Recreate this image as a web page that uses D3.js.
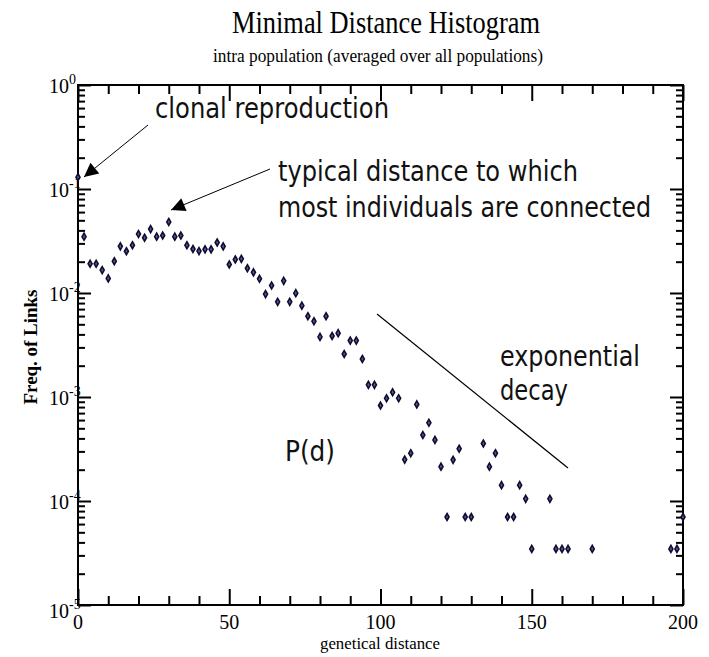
<!DOCTYPE html>
<html>
<head>
<meta charset="utf-8">
<script src="https://cdn.jsdelivr.net/npm/d3@7"></script>
<style>
  body { margin: 0; background: #fff; }
  svg { display: block; }
  .serif { font-family: "Liberation Serif", "Times New Roman", serif; }
  .note { font-family: "DejaVu Sans", sans-serif; fill: #111; }
  .axis path.domain { display: none; }
  .axis line { stroke: #000; stroke-width: 2px; }
</style>
</head>
<body>
<div id="chart"></div>
<script>
// genetical distance (x) and frequency of links (y)
const distances = [0, 2, 4, 6, 8, 10, 12, 14, 16, 18, 20, 22, 24, 26, 28, 30, 32, 34, 36, 38,
    40, 42, 44, 46, 48, 50, 52, 54, 56, 58, 60, 62, 64, 66, 68, 70, 72, 74, 76, 78,
    80, 82, 84, 86, 88, 90, 92, 94, 96, 98, 100, 102, 104, 106, 108, 110, 112, 114, 116, 118,
    120, 122, 124, 126, 128, 130, 134, 136, 138, 140, 142, 144, 146, 148, 150, 156, 158, 160, 162, 170,
    196, 198, 200];
const freqs = [0.130, 0.0348, 0.0191, 0.0191, 0.0166, 0.0138, 0.0202, 0.0281, 0.0252, 0.0288,
    0.0369, 0.0340, 0.0412, 0.0348, 0.0357, 0.0482, 0.0348, 0.0357, 0.0288, 0.0265,
    0.0253, 0.0263, 0.0263, 0.0306, 0.0281, 0.0188, 0.0210, 0.0213, 0.0173, 0.0158,
    0.0137, 0.00976, 0.0118, 0.00823, 0.0131, 0.00823, 0.00996, 0.00755, 0.00598, 0.00535,
    0.00378, 0.00598, 0.00386, 0.00411, 0.00259, 0.00349, 0.00349, 0.00232, 0.00131, 0.00131,
    0.000828, 0.000972, 0.00111, 0.000972, 0.000250, 0.000288, 0.000849, 0.000431, 0.000565, 0.000387,
    0.000214, 0.0000702, 0.000249, 0.000318, 0.0000702, 0.0000702, 0.000357, 0.000214, 0.000288, 0.000142,
    0.0000702, 0.0000702, 0.000142, 0.000105, 0.0000346, 0.000105, 0.0000346, 0.0000346, 0.0000346, 0.0000346,
    0.0000346, 0.0000346, 0.0000702];

const xTicks = [0, 50, 100, 150, 200];
const xMinorTicks = [10, 20, 30, 40, 60, 70, 80, 90, 110, 120, 130, 140, 160, 170, 180, 190];
const yExponents = [0, -1, -2, -3, -4, -5];

const W = 709, H = 657;
const plotLeft = 78, plotRight = 683, plotTop = 85, plotBottom = 605;

const svg = d3.select('#chart').append('svg')
    .attr('width', W)
    .attr('height', H);

svg.append('rect').attr('width', W).attr('height', H).attr('fill', '#fff');

const x = d3.scaleLinear().domain([0, 200]).range([plotLeft, plotRight]);
const y = d3.scaleLog().domain([1e-5, 1]).range([plotBottom, plotTop]);

const yMajor = yExponents.map(e => Math.pow(10, e));
const yMinor = [];
for (let e = -5; e < 0; e++) {
    for (let m = 2; m < 10; m++) yMinor.push(m * Math.pow(10, e));
}

// titles
svg.append('text').attr('class', 'serif')
    .attr('x', 386).attr('y', 33)
    .attr('text-anchor', 'middle')
    .attr('font-size', 32)
    .attr('textLength', 308).attr('lengthAdjust', 'spacingAndGlyphs')
    .text('Minimal Distance Histogram');
svg.append('text').attr('class', 'serif')
    .attr('x', 378).attr('y', 62)
    .attr('text-anchor', 'middle')
    .attr('font-size', 18)
    .attr('textLength', 330).attr('lengthAdjust', 'spacingAndGlyphs')
    .text('intra population (averaged over all populations)');

// inside ticks on all four sides, drawn with d3 axes
function addAxis(axis, tx, ty) {
    svg.append('g').attr('class', 'axis')
        .attr('transform', `translate(${tx}, ${ty})`)
        .call(axis.tickFormat(''));
}
addAxis(d3.axisBottom(x).tickValues(xMinorTicks).tickSize(-9), 0, plotBottom);
addAxis(d3.axisBottom(x).tickValues(xTicks).tickSize(-16), 0, plotBottom);
addAxis(d3.axisTop(x).tickValues(xMinorTicks).tickSize(-9), 0, plotTop);
addAxis(d3.axisTop(x).tickValues(xTicks).tickSize(-16), 0, plotTop);
addAxis(d3.axisLeft(y).tickValues(yMinor).tickSize(-7), plotLeft, 0);
addAxis(d3.axisLeft(y).tickValues(yMajor).tickSize(-13), plotLeft, 0);
addAxis(d3.axisRight(y).tickValues(yMinor).tickSize(-7), plotRight, 0);
addAxis(d3.axisRight(y).tickValues(yMajor).tickSize(-13), plotRight, 0);

svg.append('rect')
    .attr('x', plotLeft).attr('y', plotTop)
    .attr('width', plotRight - plotLeft).attr('height', plotBottom - plotTop)
    .attr('fill', 'none').attr('stroke', '#000').attr('stroke-width', 2);

// tick labels
svg.selectAll('.xlab').data(xTicks).enter().append('text')
    .attr('class', 'serif')
    .attr('x', d => x(d)).attr('y', plotBottom + 24)
    .attr('text-anchor', 'middle')
    .attr('font-size', 20)
    .text(d => d);

const ylab = svg.selectAll('.ylab').data(yExponents).enter().append('text')
    .attr('class', 'serif')
    .attr('x', plotLeft - 29).attr('y', d => y(Math.pow(10, d)) + (d === -5 ? 13 : 8))
    .attr('font-size', 20);
ylab.append('tspan').text('10');
ylab.append('tspan').attr('dy', -9).attr('font-size', 14).text(d => d === 0 ? '0' : '-' + (-d));

// axis titles
svg.append('text').attr('class', 'serif')
    .attr('x', 380).attr('y', 649)
    .attr('text-anchor', 'middle')
    .attr('font-size', 17)
    .attr('textLength', 120).attr('lengthAdjust', 'spacingAndGlyphs')
    .text('genetical distance');
svg.append('text').attr('class', 'serif')
    .attr('transform', 'translate(37, 347) rotate(-90)')
    .attr('text-anchor', 'middle')
    .attr('font-size', 18)
    .attr('font-weight', 'bold')
    .attr('textLength', 115).attr('lengthAdjust', 'spacingAndGlyphs')
    .text('Freq. of Links');

// data points
const pts = distances.map((d, i) => ({d: d, f: freqs[i]}));
svg.append('g').selectAll('path').data(pts).enter().append('path')
    .attr('transform', p => `translate(${x(p.d)}, ${y(p.f)})`)
    .attr('d', d3.symbol().type(d3.symbolDiamond).size(14))
    .attr('fill', '#5a5a98')
    .attr('stroke', '#0d0d30')
    .attr('stroke-width', 1.6);

// annotations
svg.append('defs').append('marker')
    .attr('id', 'head')
    .attr('viewBox', '0 0 10 10')
    .attr('refX', 10).attr('refY', 5)
    .attr('markerWidth', 18).attr('markerHeight', 14)
    .attr('markerUnits', 'userSpaceOnUse')
    .attr('orient', 'auto')
    .append('path').attr('d', 'M0,0 L10,5 L0,10 Z').attr('fill', '#000');

svg.append('line')
    .attr('x1', 148).attr('y1', 125).attr('x2', 84).attr('y2', 177)
    .attr('stroke', '#000').attr('stroke-width', 1)
    .attr('marker-end', 'url(#head)');
svg.append('line')
    .attr('x1', 270).attr('y1', 169).attr('x2', 171).attr('y2', 210)
    .attr('stroke', '#000').attr('stroke-width', 1)
    .attr('marker-end', 'url(#head)');
svg.append('line')
    .attr('x1', 377).attr('y1', 314).attr('x2', 568).attr('y2', 468)
    .attr('stroke', '#000').attr('stroke-width', 1.2);

const notes = [
    {text: 'clonal reproduction', x: 155, y: 118, w: 234},
    {text: 'typical distance to which', x: 278, y: 181, w: 300},
    {text: 'most individuals are connected', x: 278, y: 217, w: 373},
    {text: 'exponential', x: 500, y: 366, w: 140},
    {text: 'decay', x: 500, y: 400, w: 68},
    {text: 'P(d)', x: 285, y: 461, w: 50}
];
svg.selectAll('.note').data(notes).enter().append('text')
    .attr('class', 'note')
    .attr('x', d => d.x).attr('y', d => d.y)
    .attr('font-size', 29)
    .attr('textLength', d => d.w).attr('lengthAdjust', 'spacingAndGlyphs')
    .text(d => d.text);
</script>
</body>
</html>
